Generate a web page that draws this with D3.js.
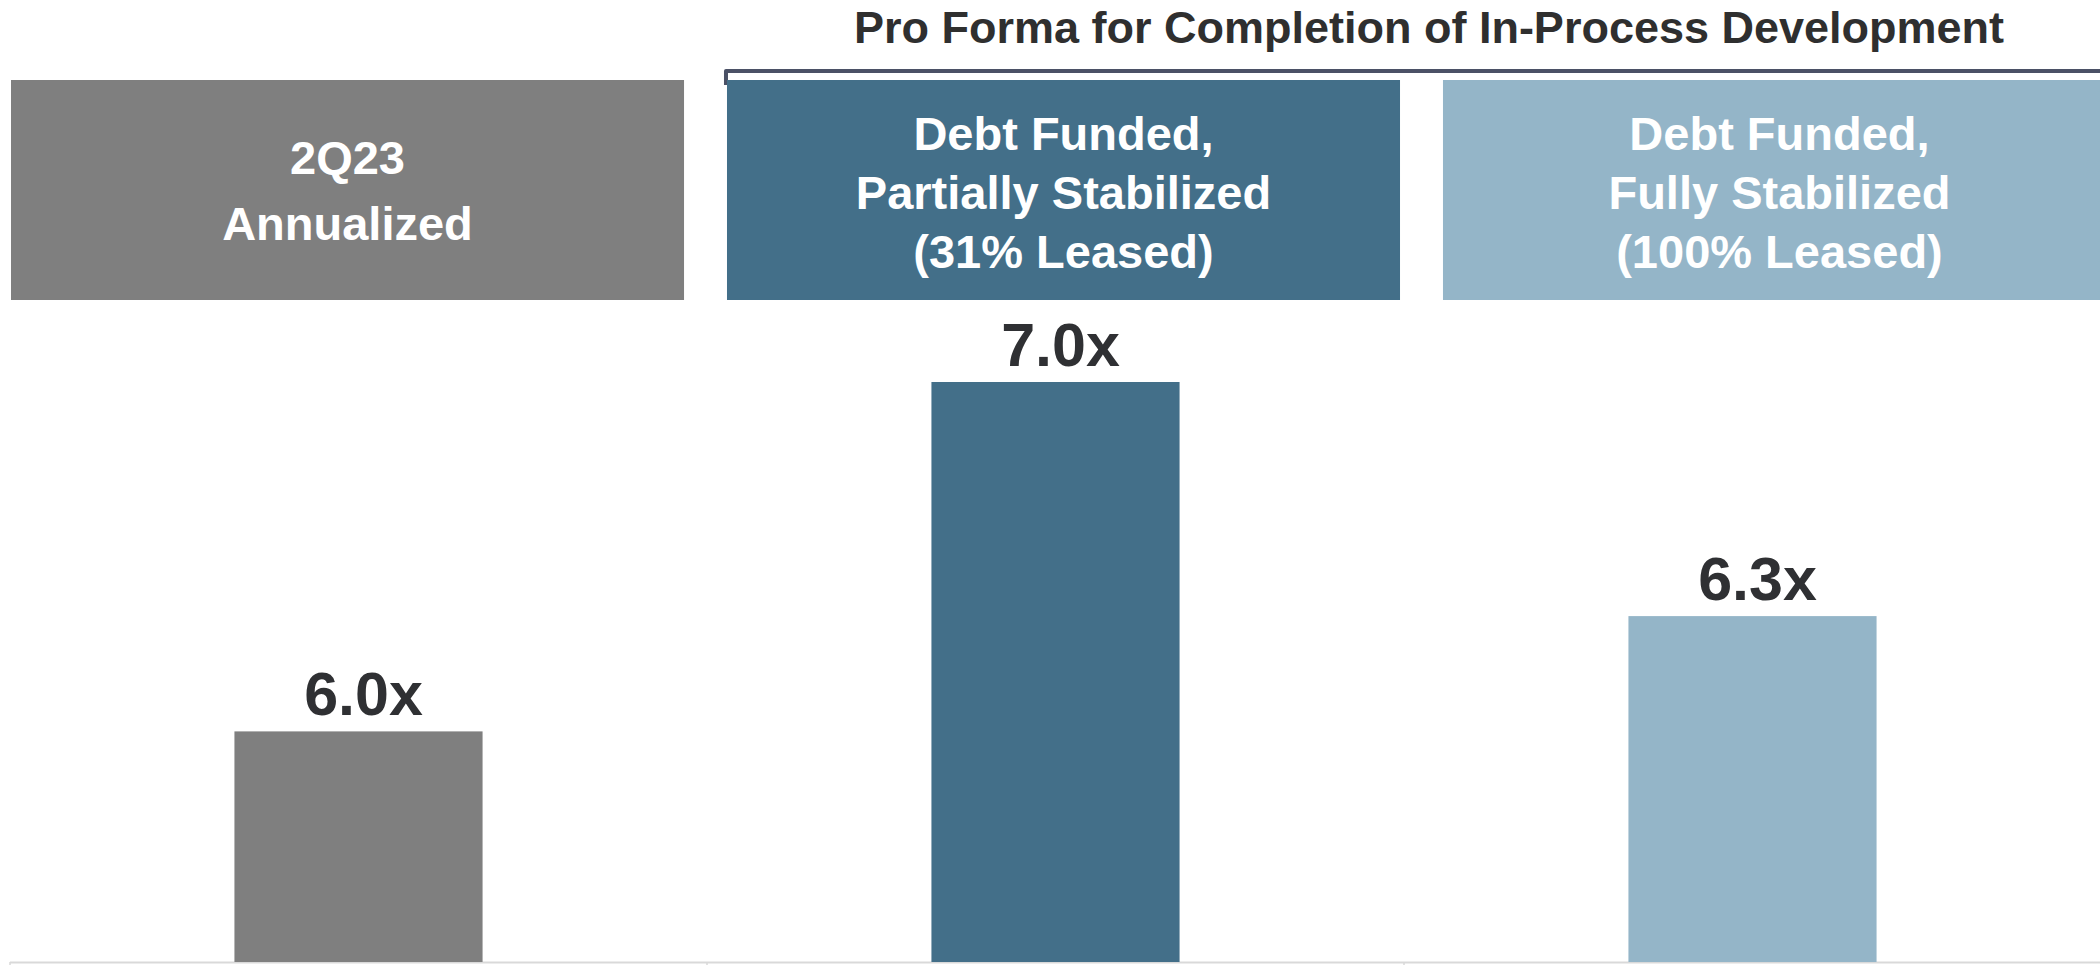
<!DOCTYPE html>
<html>
<head>
<meta charset="utf-8">
<script src="https://cdn.jsdelivr.net/npm/d3@7.9.0/dist/d3.min.js"></script>
<style>
  html, body { margin: 0; padding: 0; background: #fff; }
  svg { display: block; font-family: "Liberation Sans", Arial, sans-serif; }
</style>
</head>
<body>
<div id="chart"></div>
<script>
// chart data
const categories = ['2Q23 Annualized', 'Partially Stabilized', 'Fully Stabilized'];
const values = [6.0, 7.0, 6.33];
const valueLabels = ['6.0x', '7.0x', '6.3x'];
const headerLines = [
  ['2Q23', 'Annualized'],
  ['Debt Funded,', 'Partially Stabilized', '(31% Leased)'],
  ['Debt Funded,', 'Fully Stabilized', '(100% Leased)']
];
const colors = ['#7f7f7f', '#436f89', '#94b5c8'];
const title = 'Pro Forma for Completion of In-Process Development';

const width = 2100;
const height = 965;
const baseY = 962;

const svg = d3.select('#chart')
  .append('svg')
  .attr('width', width)
  .attr('height', height);

const xScale = d3.scaleBand()
  .domain(categories)
  .range([10, 2101])
  .paddingInner(0.644)
  .paddingOuter(0.322);

// header boxes sit on their own band layout
const boxScale = d3.scaleBand()
  .domain(categories)
  .range([11, 2116])
  .paddingInner(0.06)
  .paddingOuter(0);

const yScale = d3.scaleLinear()
  .domain([5.34, 7.0])
  .range([baseY, 382]);

// title + bracket
svg.append('text')
  .attr('x', 1429)
  .attr('y', 43)
  .attr('text-anchor', 'middle')
  .attr('font-size', 45)
  .attr('font-weight', 'bold')
  .attr('fill', '#2f2f2f')
  .text(title);

const bx = boxScale(categories[1]) - 1;
svg.append('path')
  .attr('d', `M${bx},85 L${bx},71 L${width + 5},71`)
  .attr('fill', 'none')
  .attr('stroke', '#4b5166')
  .attr('stroke-width', 4)
  .attr('stroke-linejoin', 'round');

// header boxes
const headers = svg.append('g').attr('class', 'headers');
categories.forEach((c, i) => {
  const g = headers.append('g');
  g.append('rect')
    .attr('x', boxScale(c))
    .attr('y', 80)
    .attr('width', boxScale.bandwidth())
    .attr('height', 220)
    .attr('fill', colors[i]);

  const lines = headerLines[i];
  const lh = lines.length === 2 ? 66 : 59;
  const firstBase = lines.length === 2 ? 174 : 150;
  g.selectAll('text')
    .data(lines)
    .join('text')
    .attr('x', boxScale(c) + boxScale.bandwidth() / 2)
    .attr('y', (d, j) => firstBase + j * lh)
    .attr('text-anchor', 'middle')
    .attr('font-size', 47)
    .attr('font-weight', 'bold')
    .attr('fill', '#fff')
    .text(d => d);
});

// axis line with category boundary ticks
const axis = svg.append('g').attr('class', 'axis');
axis.append('line')
  .attr('x1', 10).attr('x2', width)
  .attr('y1', baseY + 0.5).attr('y2', baseY + 0.5)
  .attr('stroke', '#d9d9d9')
  .attr('stroke-width', 2);

const step = xScale.step();
const x0 = xScale(categories[0]) - step * xScale.paddingOuter();
axis.selectAll('.tick')
  .data(d3.range(categories.length))
  .join('line')
  .attr('class', 'tick')
  .attr('x1', i => x0 + i * step)
  .attr('x2', i => x0 + i * step)
  .attr('y1', baseY)
  .attr('y2', height)
  .attr('stroke', '#d9d9d9')
  .attr('stroke-width', 1.5);

// bars
svg.append('g')
  .selectAll('rect')
  .data(categories)
  .join('rect')
  .attr('x', d => xScale(d))
  .attr('y', (d, i) => yScale(values[i]))
  .attr('width', xScale.bandwidth())
  .attr('height', (d, i) => baseY - yScale(values[i]))
  .attr('fill', (d, i) => colors[i]);

// value labels
svg.append('g')
  .selectAll('text')
  .data(categories)
  .join('text')
  .attr('x', d => xScale(d) + xScale.bandwidth() / 2 + 5)
  .attr('y', (d, i) => yScale(values[i]) - 16)
  .attr('text-anchor', 'middle')
  .attr('font-size', 61)
  .attr('font-weight', 'bold')
  .attr('fill', '#2f3033')
  .text((d, i) => valueLabels[i]);
</script>
</body>
</html>
